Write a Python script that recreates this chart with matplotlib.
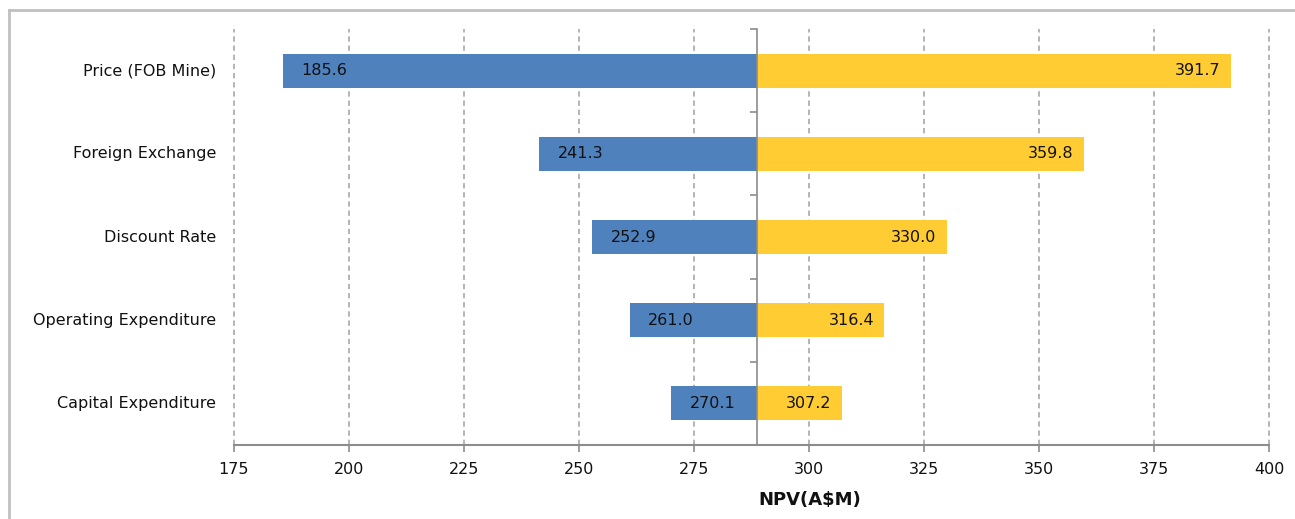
import matplotlib
matplotlib.use("Agg")
import matplotlib.pyplot as plt
from matplotlib.lines import Line2D
import matplotlib.transforms as mtransforms

# data
categories = ["Price (FOB Mine)", "Foreign Exchange", "Discount Rate",
              "Operating Expenditure", "Capital Expenditure"]
low_vals = [185.6, 241.3, 252.9, 261.0, 270.1]
high_vals = [391.7, 359.8, 330.0, 316.4, 307.2]
base_npv = 288.7
x_ticks = [175, 200, 225, 250, 275, 300, 325, 350, 375, 400]

blue = "#4F81BD"
yellow = "#FFCC33"
grey = "#8c8c8c"
txt = "#111111"

fig = plt.figure(figsize=(12.95, 5.19), dpi=100)
ax = fig.add_axes([234 / 1295, 1 - 445 / 519, (1269 - 234) / 1295, (445 - 29) / 519])

n = len(categories)
ypos = [n - 1 - i for i in range(n)]

# grid first so bars cover it
for xt in x_ticks:
    ax.axvline(xt, color="#a0a0a0", lw=1.1, ls=(0, (3.5, 2.5)), zorder=0, clip_on=False)

for y, lo, hi in zip(ypos, low_vals, high_vals):
    ax.barh(y, lo - base_npv, left=base_npv, height=0.41, color=blue, zorder=2)
    ax.barh(y, hi - base_npv, left=base_npv, height=0.41, color=yellow, zorder=2)
    ax.annotate(f"{lo:.1f}", (lo, y), xytext=(13.5, 0), textcoords="offset points",
                ha="left", va="center", fontsize=11.5, color=txt, zorder=3)
    ax.annotate(f"{hi:.1f}", (hi, y), xytext=(-7.5, 0), textcoords="offset points",
                ha="right", va="center", fontsize=11.5, color=txt, zorder=3)

ax.set_xlim(175, 400)
ax.set_ylim(-0.5, n - 0.5)
ax.set_xticks(x_ticks)
ax.tick_params(axis="x", direction="out", length=5, width=1.2, color=grey,
               pad=7, labelsize=11.5, labelcolor=txt)

# centre axis at base value with boundary ticks
ax.spines["left"].set_position(("data", base_npv))
ax.spines["left"].set_color(grey)
ax.spines["left"].set_linewidth(1.2)
ax.spines["left"].set_zorder(4)
ax.set_yticks([i - 0.5 for i in range(n + 1)])
ax.set_yticklabels([])
ax.tick_params(axis="y", direction="out", length=5, width=1.2, color=grey)
ax.spines["bottom"].set_color(grey)
ax.spines["bottom"].set_linewidth(1.5)
ax.spines["top"].set_visible(False)
ax.spines["right"].set_visible(False)

trans = mtransforms.blended_transform_factory(ax.transAxes, ax.transData)
for y, name in zip(ypos, categories):
    ax.text(-0.0174, y, name, transform=trans, ha="right", va="center",
            fontsize=11.5, color=txt)

fig.text(810 / 1295, 1 - 500 / 519, r"NPV(A\$M)", ha="center", va="center",
         fontsize=13, fontweight="bold", color=txt)

# outer chart frame
fig.add_artist(Line2D([9 / 1295, 9 / 1295], [0, 1 - 10 / 519], transform=fig.transFigure,
                      color="#c0c0c0", lw=2))
fig.add_artist(Line2D([9 / 1295, 1], [1 - 10 / 519, 1 - 10 / 519], transform=fig.transFigure,
                      color="#c0c0c0", lw=2))

fig.savefig("out.png", dpi=100)
